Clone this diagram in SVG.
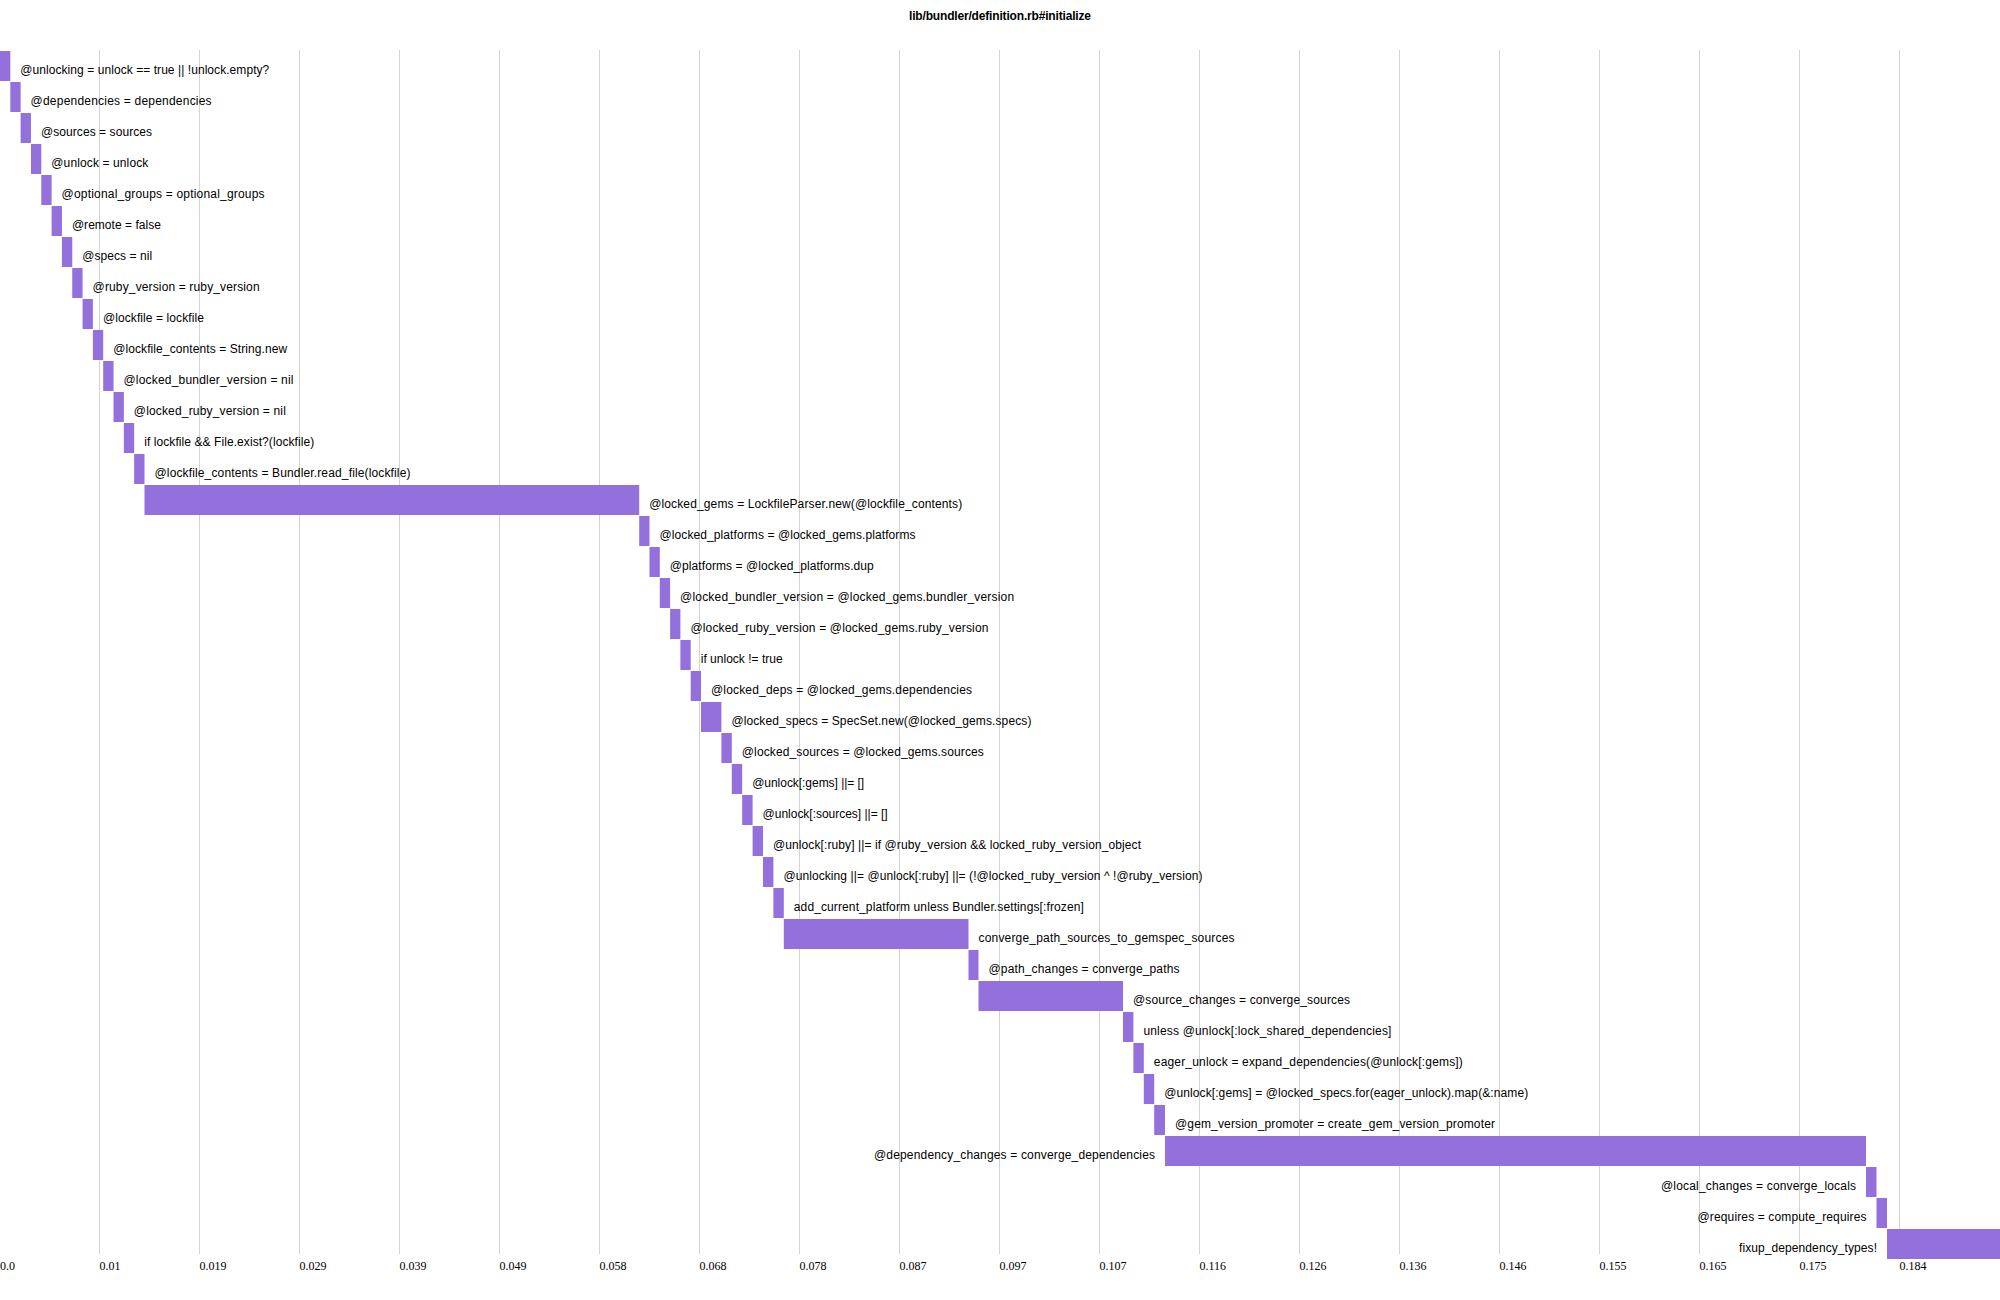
<svg xmlns="http://www.w3.org/2000/svg" width="2000" height="1300" viewBox="0 0 2000 1300">
<style>
.bg{fill:#ffffff}
.title{font-family:"Liberation Sans",Arial,sans-serif;font-size:12px;font-weight:bold;fill:#000;text-anchor:middle}
.grid line{stroke:#d3d3d3;stroke-width:1}
.tick{font-family:"Liberation Serif","Times New Roman",serif;font-size:12px;fill:#000}
.bar{fill:#9370db}
.lbl{font-family:"Liberation Sans",Arial,sans-serif;font-size:12px;fill:#000}
.lbl.r{text-anchor:end}
</style>
<rect class="bg" x="0" y="0" width="2000" height="1300"/>
<text class="title" x="1000" y="20" textLength="182">lib/bundler/definition.rb#initialize</text>
<g id="grid" class="grid">
<line x1="99.5" y1="50" x2="99.5" y2="1254"/>
<line x1="199.5" y1="50" x2="199.5" y2="1254"/>
<line x1="299.5" y1="50" x2="299.5" y2="1254"/>
<line x1="399.5" y1="50" x2="399.5" y2="1254"/>
<line x1="499.5" y1="50" x2="499.5" y2="1254"/>
<line x1="599.5" y1="50" x2="599.5" y2="1254"/>
<line x1="699.5" y1="50" x2="699.5" y2="1254"/>
<line x1="799.5" y1="50" x2="799.5" y2="1254"/>
<line x1="899.5" y1="50" x2="899.5" y2="1254"/>
<line x1="999.5" y1="50" x2="999.5" y2="1254"/>
<line x1="1099.5" y1="50" x2="1099.5" y2="1254"/>
<line x1="1199.5" y1="50" x2="1199.5" y2="1254"/>
<line x1="1299.5" y1="50" x2="1299.5" y2="1254"/>
<line x1="1399.5" y1="50" x2="1399.5" y2="1254"/>
<line x1="1499.5" y1="50" x2="1499.5" y2="1254"/>
<line x1="1599.5" y1="50" x2="1599.5" y2="1254"/>
<line x1="1699.5" y1="50" x2="1699.5" y2="1254"/>
<line x1="1799.5" y1="50" x2="1799.5" y2="1254"/>
<line x1="1899.5" y1="50" x2="1899.5" y2="1254"/>
</g>
<g id="axis" class="tick">
<text x="0" y="1270">0.0</text>
<text x="99.5" y="1270">0.01</text>
<text x="199.5" y="1270">0.019</text>
<text x="299.5" y="1270">0.029</text>
<text x="399.5" y="1270">0.039</text>
<text x="499.5" y="1270">0.049</text>
<text x="599.5" y="1270">0.058</text>
<text x="699.5" y="1270">0.068</text>
<text x="799.5" y="1270">0.078</text>
<text x="899.5" y="1270">0.087</text>
<text x="999.5" y="1270">0.097</text>
<text x="1099.5" y="1270">0.107</text>
<text x="1199.5" y="1270">0.116</text>
<text x="1299.5" y="1270">0.126</text>
<text x="1399.5" y="1270">0.136</text>
<text x="1499.5" y="1270">0.146</text>
<text x="1599.5" y="1270">0.155</text>
<text x="1699.5" y="1270">0.165</text>
<text x="1799.5" y="1270">0.175</text>
<text x="1899.5" y="1270">0.184</text>
</g>
<g id="connectors"></g>
<g id="rows">
<g id="row-1" transform="translate(0,51)"><rect class="bar" x="0" y="0" width="10.32" height="30"/><text class="lbl" x="20.3" y="23" textLength="249">@unlocking = unlock == true || !unlock.empty?</text></g>
<g id="row-2" transform="translate(0,82)"><rect class="bar" x="10.32" y="0" width="10.32" height="30"/><text class="lbl" x="30.6" y="23" textLength="181">@dependencies = dependencies</text></g>
<g id="row-3" transform="translate(0,113)"><rect class="bar" x="20.64" y="0" width="10.32" height="30"/><text class="lbl" x="41" y="23" textLength="111">@sources = sources</text></g>
<g id="row-4" transform="translate(0,144)"><rect class="bar" x="30.96" y="0" width="10.32" height="30"/><text class="lbl" x="51.3" y="23" textLength="97">@unlock = unlock</text></g>
<g id="row-5" transform="translate(0,175)"><rect class="bar" x="41.28" y="0" width="10.32" height="30"/><text class="lbl" x="61.6" y="23" textLength="203">@optional_groups = optional_groups</text></g>
<g id="row-6" transform="translate(0,206)"><rect class="bar" x="51.6" y="0" width="10.32" height="30"/><text class="lbl" x="71.9" y="23" textLength="89">@remote = false</text></g>
<g id="row-7" transform="translate(0,237)"><rect class="bar" x="61.92" y="0" width="10.32" height="30"/><text class="lbl" x="82.2" y="23" textLength="70">@specs = nil</text></g>
<g id="row-8" transform="translate(0,268)"><rect class="bar" x="72.24" y="0" width="10.32" height="30"/><text class="lbl" x="92.6" y="23" textLength="167">@ruby_version = ruby_version</text></g>
<g id="row-9" transform="translate(0,299)"><rect class="bar" x="82.56" y="0" width="10.32" height="30"/><text class="lbl" x="102.9" y="23" textLength="101">@lockfile = lockfile</text></g>
<g id="row-10" transform="translate(0,330)"><rect class="bar" x="92.88" y="0" width="10.32" height="30"/><text class="lbl" x="113.2" y="23" textLength="174">@lockfile_contents = String.new</text></g>
<g id="row-11" transform="translate(0,361)"><rect class="bar" x="103.2" y="0" width="10.32" height="30"/><text class="lbl" x="123.5" y="23" textLength="170">@locked_bundler_version = nil</text></g>
<g id="row-12" transform="translate(0,392)"><rect class="bar" x="113.52" y="0" width="10.32" height="30"/><text class="lbl" x="133.8" y="23" textLength="152">@locked_ruby_version = nil</text></g>
<g id="row-13" transform="translate(0,423)"><rect class="bar" x="123.84" y="0" width="10.32" height="30"/><text class="lbl" x="144.2" y="23" textLength="170">if lockfile &amp;&amp; File.exist?(lockfile)</text></g>
<g id="row-14" transform="translate(0,454)"><rect class="bar" x="134.16" y="0" width="10.34" height="30"/><text class="lbl" x="154.5" y="23" textLength="256">@lockfile_contents = Bundler.read_file(lockfile)</text></g>
<g id="row-15" transform="translate(0,485)"><rect class="bar" x="144.5" y="0" width="494.7" height="30"/><text class="lbl" x="649.2" y="23" textLength="313">@locked_gems = LockfileParser.new(@lockfile_contents)</text></g>
<g id="row-16" transform="translate(0,516)"><rect class="bar" x="639.2" y="0" width="10.3" height="30"/><text class="lbl" x="659.5" y="23" textLength="256">@locked_platforms = @locked_gems.platforms</text></g>
<g id="row-17" transform="translate(0,547)"><rect class="bar" x="649.5" y="0" width="10.3" height="30"/><text class="lbl" x="669.8" y="23" textLength="204">@platforms = @locked_platforms.dup</text></g>
<g id="row-18" transform="translate(0,578)"><rect class="bar" x="659.8" y="0" width="10.3" height="30"/><text class="lbl" x="680.1" y="23" textLength="334">@locked_bundler_version = @locked_gems.bundler_version</text></g>
<g id="row-19" transform="translate(0,609)"><rect class="bar" x="670.1" y="0" width="10.3" height="30"/><text class="lbl" x="690.4" y="23" textLength="298">@locked_ruby_version = @locked_gems.ruby_version</text></g>
<g id="row-20" transform="translate(0,640)"><rect class="bar" x="680.4" y="0" width="10.3" height="30"/><text class="lbl" x="700.7" y="23" textLength="82">if unlock != true</text></g>
<g id="row-21" transform="translate(0,671)"><rect class="bar" x="690.7" y="0" width="10.3" height="30"/><text class="lbl" x="711" y="23" textLength="261">@locked_deps = @locked_gems.dependencies</text></g>
<g id="row-22" transform="translate(0,702)"><rect class="bar" x="701" y="0" width="20.4" height="30"/><text class="lbl" x="731.4" y="23" textLength="300">@locked_specs = SpecSet.new(@locked_gems.specs)</text></g>
<g id="row-23" transform="translate(0,733)"><rect class="bar" x="721.4" y="0" width="10.4" height="30"/><text class="lbl" x="741.8" y="23" textLength="242">@locked_sources = @locked_gems.sources</text></g>
<g id="row-24" transform="translate(0,764)"><rect class="bar" x="731.8" y="0" width="10.4" height="30"/><text class="lbl" x="752.2" y="23" textLength="112">@unlock[:gems] ||= []</text></g>
<g id="row-25" transform="translate(0,795)"><rect class="bar" x="742.2" y="0" width="10.4" height="30"/><text class="lbl" x="762.6" y="23" textLength="125">@unlock[:sources] ||= []</text></g>
<g id="row-26" transform="translate(0,826)"><rect class="bar" x="752.6" y="0" width="10.4" height="30"/><text class="lbl" x="773" y="23" textLength="368">@unlock[:ruby] ||= if @ruby_version &amp;&amp; locked_ruby_version_object</text></g>
<g id="row-27" transform="translate(0,857)"><rect class="bar" x="763" y="0" width="10.4" height="30"/><text class="lbl" x="783.4" y="23" textLength="419">@unlocking ||= @unlock[:ruby] ||= (!@locked_ruby_version ^ !@ruby_version)</text></g>
<g id="row-28" transform="translate(0,888)"><rect class="bar" x="773.4" y="0" width="10.4" height="30"/><text class="lbl" x="793.8" y="23" textLength="290">add_current_platform unless Bundler.settings[:frozen]</text></g>
<g id="row-29" transform="translate(0,919)"><rect class="bar" x="783.8" y="0" width="184.7" height="30"/><text class="lbl" x="978.5" y="23" textLength="256">converge_path_sources_to_gemspec_sources</text></g>
<g id="row-30" transform="translate(0,950)"><rect class="bar" x="968.5" y="0" width="10" height="30"/><text class="lbl" x="988.5" y="23" textLength="191">@path_changes = converge_paths</text></g>
<g id="row-31" transform="translate(0,981)"><rect class="bar" x="978.5" y="0" width="144.5" height="30"/><text class="lbl" x="1133" y="23" textLength="217">@source_changes = converge_sources</text></g>
<g id="row-32" transform="translate(0,1012)"><rect class="bar" x="1123" y="0" width="10.4" height="30"/><text class="lbl" x="1143.4" y="23" textLength="248">unless @unlock[:lock_shared_dependencies]</text></g>
<g id="row-33" transform="translate(0,1043)"><rect class="bar" x="1133.4" y="0" width="10.4" height="30"/><text class="lbl" x="1153.8" y="23" textLength="309">eager_unlock = expand_dependencies(@unlock[:gems])</text></g>
<g id="row-34" transform="translate(0,1074)"><rect class="bar" x="1143.8" y="0" width="10.4" height="30"/><text class="lbl" x="1164.2" y="23" textLength="364">@unlock[:gems] = @locked_specs.for(eager_unlock).map(&amp;:name)</text></g>
<g id="row-35" transform="translate(0,1105)"><rect class="bar" x="1154.2" y="0" width="10.8" height="30"/><text class="lbl" x="1175" y="23" textLength="320">@gem_version_promoter = create_gem_version_promoter</text></g>
<g id="row-36" transform="translate(0,1136)"><rect class="bar" x="1165" y="0" width="701" height="30"/><text class="lbl r" x="1155" y="23" textLength="281">@dependency_changes = converge_dependencies</text></g>
<g id="row-37" transform="translate(0,1167)"><rect class="bar" x="1866" y="0" width="10.5" height="30"/><text class="lbl r" x="1856" y="23" textLength="195">@local_changes = converge_locals</text></g>
<g id="row-38" transform="translate(0,1198)"><rect class="bar" x="1876.5" y="0" width="10.5" height="30"/><text class="lbl r" x="1866.5" y="23" textLength="169">@requires = compute_requires</text></g>
<g id="row-39" transform="translate(0,1229)"><rect class="bar" x="1887" y="0" width="113" height="30"/><text class="lbl r" x="1877" y="23" textLength="138">fixup_dependency_types!</text></g>
</g>
</svg>
